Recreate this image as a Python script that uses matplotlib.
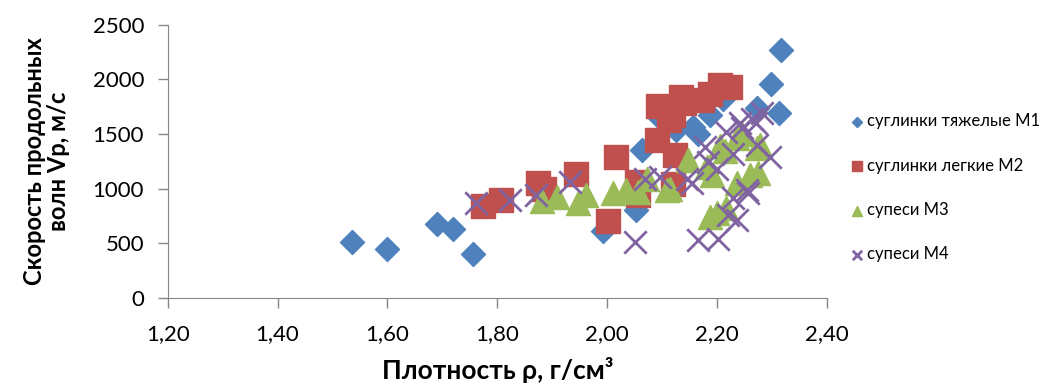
import matplotlib
matplotlib.use("Agg")
import matplotlib.pyplot as plt

# ── Data ──────────────────────────────────────────────────────────────
m1_rho = [1.535, 1.599, 1.690, 1.719, 1.756, 1.992, 2.052, 2.063, 2.096, 2.126,
          2.156, 2.166, 2.187, 2.210, 2.272, 2.299, 2.312, 2.316]
m1_vp = [510, 450, 675, 630, 400, 610, 800, 1350, 1650, 1540,
         1560, 1500, 1670, 1820, 1740, 1960, 1690, 2265]

m2_rho = [1.774, 1.806, 1.874, 1.885, 1.944, 2.001, 2.016, 2.054, 2.056, 2.090,
          2.092, 2.112, 2.120, 2.123, 2.120, 2.135, 2.140, 2.172, 2.187, 2.205, 2.224]
m2_vp = [840, 895, 1050, 1000, 1130, 700, 1290, 1060, 940, 1445,
         1760, 1630, 1670, 1310, 1040, 1840, 1780, 1810, 1870, 1950, 1930]

m3_rho = [1.881, 1.909, 1.947, 1.962, 2.011, 2.034, 2.056, 2.072, 2.108, 2.114,
          2.147, 2.181, 2.190, 2.187, 2.199, 2.217, 2.205, 2.214, 2.236, 2.245,
          2.236, 2.260, 2.275, 2.278, 2.272]
m3_vp = [890, 925, 870, 940, 955, 985, 970, 1090, 985, 1000,
         1260, 1200, 1120, 740, 780, 820, 1390, 1340, 1460, 1500,
         1050, 1120, 1140, 1400, 1370]

m4_rho = [1.762, 1.823, 1.871, 1.932, 2.050, 2.069, 2.096, 2.145, 2.154, 2.165,
          2.201, 2.219, 2.236, 2.229, 2.257, 2.184, 2.199, 2.178, 2.217, 2.229,
          2.242, 2.263, 2.281, 2.272, 2.296, 2.254, 2.245, 2.270]
m4_vp = [865, 895, 940, 1060, 510, 1090, 1110, 1090, 1050, 530,
         540, 760, 710, 910, 955, 1240, 1180, 1380, 1520, 1320,
         1600, 1640, 1690, 1400, 1290, 985, 1550, 1600]

labels = ["суглинки тяжелые М1", "суглинки легкие М2", "супеси М3", "супеси М4"]
x_ticks = [1.2, 1.4, 1.6, 1.8, 2.0, 2.2, 2.4]
y_ticks = [0, 500, 1000, 1500, 2000, 2500]

plt.rcParams["font.family"] = ["Lato", "Noto Sans", "DejaVu Sans"]

fig = plt.figure(figsize=(10.5, 3.87), dpi=100)
ax = fig.add_axes([0.1597, 0.2307, 0.6279, 0.7053])

ax.scatter(m1_rho, m1_vp, marker="D", s=150, color="#4F81BD", label=labels[0], zorder=3)
ax.scatter(m2_rho, m2_vp, marker="s", s=280, color="#C0504D", label=labels[1], zorder=4)
ax.scatter(m3_rho, m3_vp, marker="^", s=300, color="#9BBB59", label=labels[2], zorder=5)
ax.scatter(m4_rho, m4_vp, marker="x", s=260, color="#8064A2", linewidths=2,
           label=labels[3], zorder=6)

ax.set_xlim(1.2, 2.4)
ax.set_ylim(0, 2500)
ax.set_xticks(x_ticks)
ax.set_xticklabels([f"{t:.2f}".replace(".", ",") for t in x_ticks])
ax.set_yticks(y_ticks)

for side in ["top", "right"]:
    ax.spines[side].set_visible(False)
for side in ["left", "bottom"]:
    ax.spines[side].set_color("#868686")
ax.tick_params(colors="#868686", labelcolor="black", labelsize=16, length=7, width=1)
ax.tick_params(axis="x", pad=12)
ax.tick_params(axis="y", pad=10)

ax.set_xlabel("Плотность ρ, г/см³", fontsize=19, fontweight="bold", labelpad=9)
ax.set_ylabel("Скорость продольных\nволн Vp, м/с", fontsize=17, fontweight="bold",
              labelpad=16, linespacing=1.05)

leg = ax.legend(loc="upper left", bbox_to_anchor=(1.02, 0.70), frameon=False,
                fontsize=12, handletextpad=0.0, labelspacing=1.7, markerscale=0.42,
                borderaxespad=0, handlelength=1.2)

plt.savefig("out.png", dpi=100)
